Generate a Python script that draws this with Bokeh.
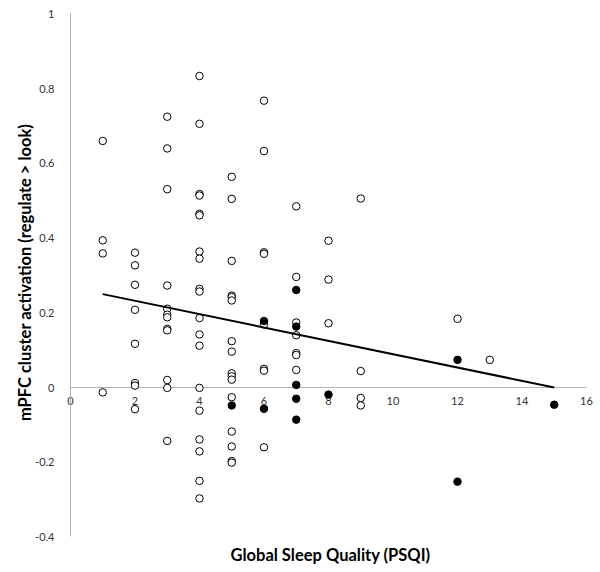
from bokeh.plotting import figure
from bokeh.models import LinearAxis, FixedTicker, Range1d, Title
from bokeh.embed import file_html
from bokeh.resources import INLINE

# open circles (not filled)
open_x = ([1] * 4 + [2] * 8 + [3] * 12 + [4] * 19 + [5] * 16 + [6] * 8 + [7] * 7
          + [8] * 3 + [9] * 4 + [12] + [13])
open_y = [0.66, 0.394, 0.359, -0.013,
          0.361, 0.327, 0.275, 0.208, 0.117, 0.012, 0.005, -0.058,
          0.725, 0.64, 0.531, 0.273, 0.211, 0.195, 0.188, 0.157, 0.153, 0.02, -0.001, -0.143,
          0.834, 0.706, 0.518, 0.514, 0.465, 0.461, 0.364, 0.345, 0.264, 0.257, 0.186, 0.142,
          0.112, -0.001, -0.062, -0.139, -0.171, -0.25, -0.297,
          0.564, 0.505, 0.339, 0.246, 0.242, 0.233, 0.124, 0.096, 0.038, 0.03, 0.021, -0.026,
          -0.118, -0.158, -0.197, -0.201,
          0.768, 0.633, 0.362, 0.358, 0.169, 0.05, 0.045, -0.16,
          0.485, 0.296, 0.174, 0.14, 0.092, 0.087, 0.047,
          0.393, 0.289, 0.172,
          0.506, 0.044, -0.028, -0.048,
          0.184,
          0.074]

# filled circles
filled_x = [5, 6, 6, 7, 7, 7, 7, 7, 8, 12, 12, 15]
filled_y = [-0.048, 0.178, -0.057, 0.261, 0.163, 0.007, -0.03, -0.086, -0.019, 0.074, -0.252, -0.046]

# trend line end points
trend_x = [1, 15]
trend_y = [0.25, 0.0]

x_ticks = [0, 2, 4, 6, 8, 10, 12, 14, 16]
x_tick_labels = ["0", "2", "4", "6", "8", "10", "12", "14", "16"]
y_ticks = [-0.4, -0.2, 0, 0.2, 0.4, 0.6, 0.8, 1]
y_tick_labels = ["-0.4", "-0.2", "0", "0.2", "0.4", "0.6", "0.8", "1"]

x_title = "Global Sleep Quality (PSQI)"
y_title = "mPFC cluster activation (regulate > look)"

FONT = "Lato"
AXIS_GREY = "#b3b3b3"
LABEL_COLOR = "#333333"
TICK_SIZE = "11px"
TITLE_SIZE = "16.5px"

p = figure(width=600, height=572, output_backend="svg", toolbar_location=None,
           title=None, x_range=Range1d(-1.116, 16.434), y_range=Range1d(-0.4203, 1.0361),
           x_axis_location=None, y_axis_location=None,
           min_border_left=34, min_border_right=0, min_border_top=0, min_border_bottom=28)
p.grid.visible = False
p.outline_line_color = None
p.background_fill_color = "white"
p.border_fill_color = "white"


def style_ticks(ax):
    ax.level = "underlay"
    ax.axis_line_color = AXIS_GREY
    ax.axis_line_width = 1
    ax.major_tick_line_color = None
    ax.minor_tick_line_color = None
    ax.major_tick_out = 0
    ax.major_tick_in = 0
    ax.minor_tick_out = 0
    ax.minor_tick_in = 0
    ax.major_label_text_font = FONT
    ax.major_label_text_font_size = TICK_SIZE
    ax.major_label_text_color = LABEL_COLOR


# y axis at x = 0
yaxis = LinearAxis(ticker=FixedTicker(ticks=y_ticks),
                   major_label_overrides={t: l for t, l in zip(y_ticks, y_tick_labels)},
                   fixed_location=0, bounds=(-0.4, 1))
style_ticks(yaxis)
yaxis.major_label_standoff = 16
p.add_layout(yaxis, "left")

# x axis crossing at y = 0
xaxis = LinearAxis(ticker=FixedTicker(ticks=x_ticks),
                   major_label_overrides={t: l for t, l in zip(x_ticks, x_tick_labels)},
                   fixed_location=0, bounds=(0, 16))
style_ticks(xaxis)
xaxis.major_label_standoff = 9
p.add_layout(xaxis, "below")

# y axis title (axis without ticks)
ytitle = LinearAxis(ticker=FixedTicker(ticks=[]), axis_label=y_title)
ytitle.axis_line_color = None
ytitle.major_tick_line_color = None
ytitle.minor_tick_line_color = None
ytitle.major_tick_out = 0
ytitle.major_tick_in = 0
ytitle.minor_tick_out = 0
ytitle.minor_tick_in = 0
ytitle.major_label_standoff = 0
ytitle.major_label_text_font_size = "0px"
ytitle.axis_label_text_font = FONT
ytitle.axis_label_text_font_style = "bold"
ytitle.axis_label_text_font_size = TITLE_SIZE
ytitle.axis_label_text_color = "black"
ytitle.axis_label_standoff = 0
p.add_layout(ytitle, "left")

# x axis title, centred under the 0-16 axis line
xtitle = Title(text=x_title, align="left", offset=196, standoff=0,
               vertical_align="top", text_font=FONT, text_font_style="bold",
               text_font_size=TITLE_SIZE, text_color="black")
p.add_layout(xtitle, "below")

p.scatter(open_x, open_y, size=7.5, marker="circle", fill_color="white",
          line_color="black", line_width=1)
p.scatter(filled_x, filled_y, size=7.5, marker="circle", fill_color="black",
          line_color="black", line_width=1)
p.line(trend_x, trend_y, line_color="black", line_width=2)

open("out.html", "w").write(file_html(p, INLINE))
